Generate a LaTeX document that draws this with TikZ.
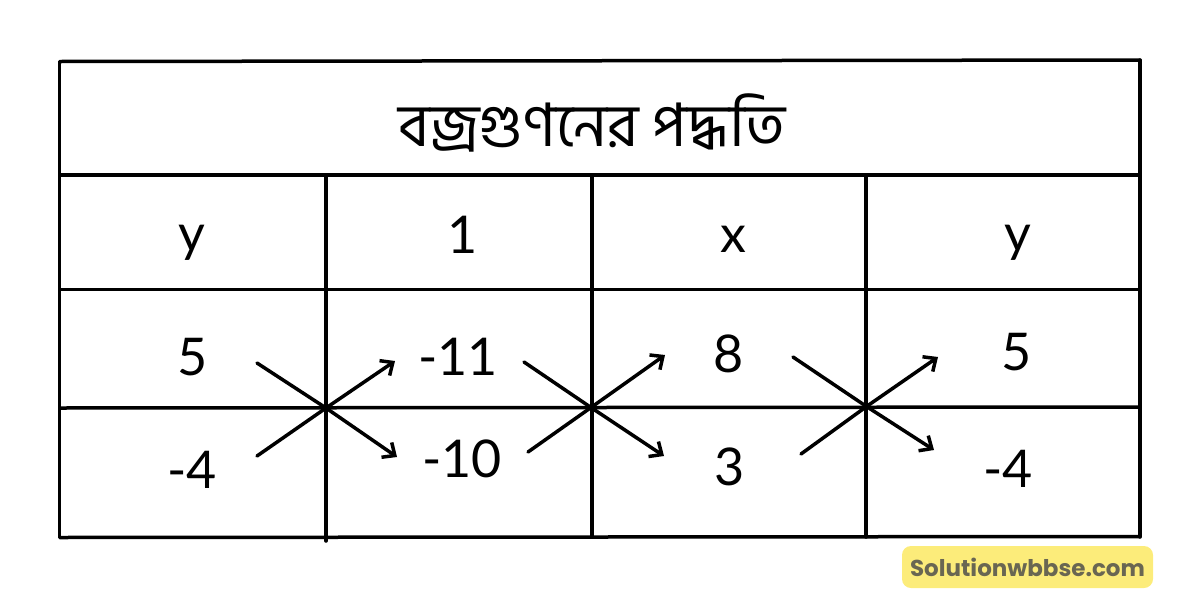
\documentclass[tikz,border=0pt]{standalone}
\usepackage{fontspec}
\setmainfont{Lato}
\newfontfamily\bn[Script=Bengali]{Hind Siliguri}
\newfontfamily\wm{Poppins}
\usetikzlibrary{arrows.meta}
\definecolor{wmyellow}{RGB}{252,236,122}
\definecolor{wmtext}{RGB}{105,102,82}
\begin{document}
\begin{tikzpicture}[x=1pt,y=-1pt,
  gridline/.style={line width=3.5pt, line cap=round},
  num/.style={anchor=base, inner sep=0pt, font=\fontsize{52}{52}\selectfont},
  arr/.style={line width=3.5pt, line cap=round, -{Straight Barb[length=10pt,width=18pt,line width=3.5pt]}},
  plainline/.style={line width=3.5pt, line cap=round}]
\useasboundingbox (0,0) rectangle (1200,600);
% grid
\draw[gridline] (60,61.5) -- (1140,60);
\draw[gridline] (60,175) -- (1140,175);
\draw[gridline] (60,289.5) -- (1140,289.5);
\draw[gridline] (60,408) -- (1140,407);
\draw[gridline] (60,537.5) -- (1140,536.5);
\draw[gridline] (59.5,61.5) -- (59.5,537.5);
\draw[gridline] (1140,60) -- (1140,537);
\draw[gridline] (326,175) -- (326,541);
\draw[gridline] (592,175) -- (592,537);
\draw[gridline] (866,175) -- (866,537);
% title
\node[anchor=base, inner sep=0pt, font=\bn\fontsize{60}{60}\selectfont] (title) at (592,146) {বজ্রগুণনের পদ্ধতি};
% header
\node[num] (h1) at (192,251) {y};
\node[num] (h2) at (463,253) {1};
\node[num] (h3) at (733,252) {x};
\node[num] (h4) at (1018,251) {y};
% row 2
\node[num] (a1) at (193,375) {5};
\node[num] (a2) at (458,375) {-11};
\node[num] (a3) at (729,372) {8};
\node[num] (a4) at (1017,370) {5};
% row 3
\node[num] (b1) at (192,488) {-4};
\node[num] (b2) at (462,477) {-10};
\node[num] (b3) at (730,485) {3};
\node[num] (b4) at (1008,487) {-4};
% crosses
\coordinate (c1ul) at (257,363); \coordinate (c1ll) at (257,456);
\coordinate (c1ur) at (395,361); \coordinate (c1lr) at (397,457);
\coordinate (c1) at (326,408);
\draw[plainline] (c1ul) -- (c1);
\draw[arr] (c1) -- (c1lr);
\draw[plainline] (c1ll) -- (c1);
\draw[arr] (c1) -- (c1ur);
\coordinate (c2ul) at (524,362); \coordinate (c2ll) at (528,452);
\coordinate (c2ur) at (665,355); \coordinate (c2lr) at (664,456);
\coordinate (c2) at (591,407.5);
\draw[plainline] (c2ul) -- (c2);
\draw[arr] (c2) -- (c2lr);
\draw[plainline] (c2ll) -- (c2);
\draw[arr] (c2) -- (c2ur);
\coordinate (c3ul) at (793,357); \coordinate (c3ll) at (801,454);
\coordinate (c3ur) at (938,357); \coordinate (c3lr) at (934,450);
\coordinate (c3) at (866.5,406.5);
\draw[plainline] (c3ul) -- (c3);
\draw[arr] (c3) -- (c3lr);
\draw[plainline] (c3ll) -- (c3);
\draw[arr] (c3) -- (c3ur);
% watermark
\node[fill=wmyellow, rounded corners=9pt, minimum width=251pt, minimum height=42pt, inner sep=0pt,
  font=\wm\bfseries\fontsize{23}{23}\selectfont, text=wmtext] (wm) at (1027.5,567) {Solutionwbbse.com};
\end{tikzpicture}
\end{document}
